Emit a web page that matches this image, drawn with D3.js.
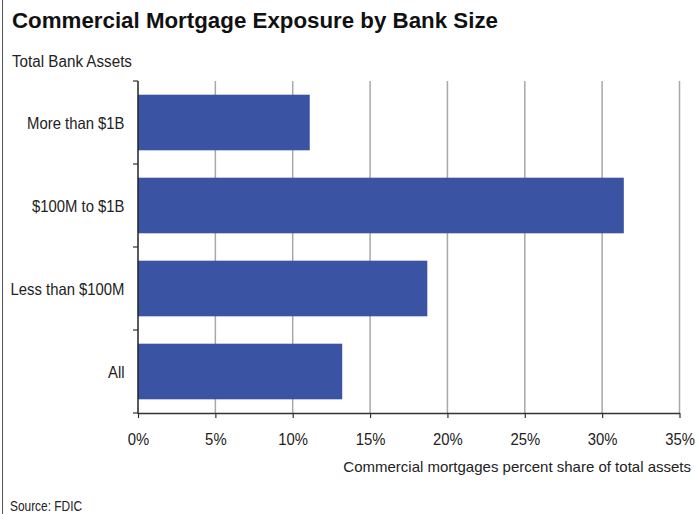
<!DOCTYPE html>
<html>
<head>
<meta charset="utf-8">
<script src="https://cdn.jsdelivr.net/npm/d3@7"></script>
<style>
  html, body { margin: 0; padding: 0; background: #fff; }
  svg { display: block; font-family: "Liberation Sans", Arial, sans-serif; }
</style>
</head>
<body>
<svg id="chart" width="699" height="514"></svg>
<script>
// Bank size groups, top to bottom
const categories = ["More than $1B", "$100M to $1B", "Less than $100M", "All"];
// Commercial mortgages as percent of total assets
const shares = [11.1, 31.4, 18.7, 13.2];
// X axis tick values (percent)
const xTicks = [0, 5, 10, 15, 20, 25, 30, 35];

const svg = d3.select("#chart");
const W = 699, H = 514;
const margin = { left: 138, top: 81 };
const plotR = 679.5, plotB = 413;

// squeeze text horizontally to get a condensed face
function condense(sel, k) {
  sel.each(function () {
    const w = this.getComputedTextLength();
    d3.select(this).attr("textLength", w * k).attr("lengthAdjust", "spacingAndGlyphs");
  });
  return sel;
}

// frame line down the left edge
svg.append("line")
  .attr("x1", 2.5).attr("x2", 2.5).attr("y1", 0).attr("y2", H)
  .attr("stroke", "#555").attr("stroke-width", 1);

const title = svg.append("text")
  .attr("x", 12).attr("y", 27.5)
  .attr("font-size", 22.5).attr("font-weight", "bold").attr("fill", "#111")
  .text("Commercial Mortgage Exposure by Bank Size");
title.attr("textLength", 486).attr("lengthAdjust", "spacingAndGlyphs");

condense(svg.append("text")
  .attr("x", 12).attr("y", 67)
  .attr("font-size", 16).attr("fill", "#222")
  .text("Total Bank Assets"), 0.95);

const x = d3.scaleLinear().domain([0, 35]).range([margin.left, plotR]);
const y = d3.scaleBand().domain(categories).range([margin.top, plotB])
  .paddingInner(0.33).paddingOuter(0.165);

// vertical gridlines
svg.append("g").selectAll("line").data(xTicks.slice(1))
  .join("line")
  .attr("x1", d => x(d)).attr("x2", d => x(d))
  .attr("y1", margin.top).attr("y2", plotB)
  .attr("stroke", "#a8a8a8").attr("stroke-width", 1.5);

// bars
svg.append("g").selectAll("rect").data(categories)
  .join("rect")
  .attr("x", x(0))
  .attr("y", d => y(d))
  .attr("width", (d, i) => x(shares[i]) - x(0))
  .attr("height", y.bandwidth())
  .attr("fill", "#3A53A3");

// x axis
const xAxis = svg.append("g")
  .attr("transform", `translate(0,${plotB})`)
  .call(d3.axisBottom(x).tickValues(xTicks).tickFormat(d => d + "%").tickSizeInner(5).tickSizeOuter(0).tickPadding(0));
xAxis.select(".domain").attr("stroke", "#333").attr("stroke-width", 1.5);
xAxis.selectAll(".tick line").attr("stroke", "#333").attr("stroke-width", 1.2);
const tickText = xAxis.selectAll(".tick text")
  .attr("y", 32).attr("dy", null)
  .attr("font-size", 16.5).attr("fill", "#222")
  .attr("font-family", "inherit");
condense(tickText, 0.9);

// y axis: ticks at band boundaries, labels at band centres
const boundaries = d3.range(categories.length + 1).map(i => margin.top + (plotB - margin.top) * i / categories.length);
const yAxis = svg.append("g");
yAxis.append("line")
  .attr("x1", x(0)).attr("x2", x(0))
  .attr("y1", margin.top).attr("y2", plotB + 0.75)
  .attr("stroke", "#222").attr("stroke-width", 1.5);
yAxis.selectAll("line.tick").data(boundaries)
  .join("line").attr("class", "tick")
  .attr("x1", x(0) - 5).attr("x2", x(0))
  .attr("y1", d => d).attr("y2", d => d)
  .attr("stroke", "#333").attr("stroke-width", 1.2);
condense(yAxis.selectAll("text").data(categories)
  .join("text")
  .attr("x", 124.5)
  .attr("y", d => y(d) + y.bandwidth() / 2 + 6)
  .attr("text-anchor", "end")
  .attr("font-size", 16.5).attr("fill", "#222")
  .text(d => d), 0.9);

svg.append("text")
  .attr("x", 691).attr("y", 471.5)
  .attr("text-anchor", "end")
  .attr("font-size", 15).attr("fill", "#222")
  .text("Commercial mortgages percent share of total assets");

condense(svg.append("text")
  .attr("x", 10).attr("y", 511)
  .attr("font-size", 14.5).attr("fill", "#222")
  .text("Source: FDIC"), 0.82);
</script>
</body>
</html>
